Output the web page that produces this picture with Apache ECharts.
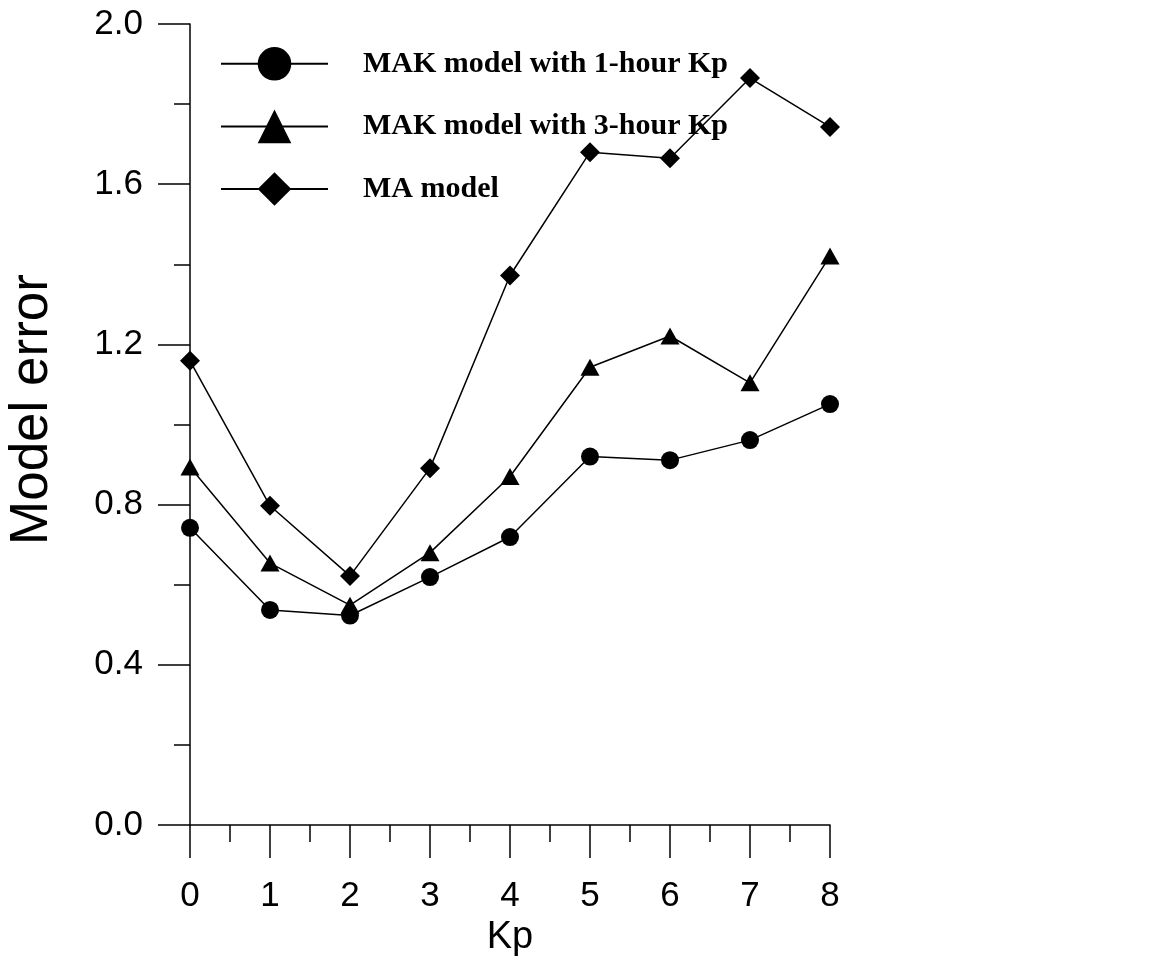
<!DOCTYPE html>
<html>
<head>
<meta charset="utf-8">
<script src="https://cdn.jsdelivr.net/npm/echarts@6/dist/echarts.min.js"></script>
<style>
html,body{margin:0;padding:0;background:#fff;}
#chart{width:1153px;height:966px;}
</style>
</head>
<body>
<div id="chart"></div>
<script>
const kp = [0, 1, 2, 3, 4, 5, 6, 7, 8];
const mak1h = [0.742, 0.537, 0.523, 0.619, 0.719, 0.920, 0.911, 0.961, 1.051];
const mak3h = [0.894, 0.654, 0.549, 0.680, 0.870, 1.143, 1.221, 1.104, 1.421];
const maModel = [1.159, 0.797, 0.622, 0.891, 1.372, 1.680, 1.665, 1.865, 1.743];
const seriesNames = ['MAK model with 1-hour Kp', 'MAK model with 3-hour Kp', 'MA model'];
const yTicks = { min: 0, max: 2, interval: 0.4 };
const xTicks = { min: 0, max: 8, interval: 1 };

const toPairs = arr => kp.map((k, i) => [k, arr[i]]);
const ink = '#000';
const sansFont = '"Liberation Sans", Arial, sans-serif';

const chart = echarts.init(document.getElementById('chart'), null, { renderer: 'canvas' });
const lineSeries = (name, data, symbol, size) => ({
  name, type: 'line', data: toPairs(data), symbol, symbolSize: size,
  lineStyle: { color: ink, width: 1.5 },
  itemStyle: { color: ink, borderWidth: 0 },
  emphasis: { disabled: true },
  animation: false
});

chart.setOption({
  backgroundColor: '#fff',
  animation: false,
  grid: { left: 190, top: 24, width: 640, height: 801, containLabel: false, outerBoundsMode: 'none' },
  legend: {
    left: 220, top: 47, orient: 'vertical', padding: 0,
    itemWidth: 107, itemHeight: 42, itemGap: 29,
    data: seriesNames,
    textStyle: { fontFamily: '"Liberation Serif", "Times New Roman", serif', fontWeight: 'bold', fontSize: 30, color: ink, padding: [0, 0, 0, 30] },
    selectedMode: false
  },
  xAxis: {
    type: 'value', min: xTicks.min, max: xTicks.max, interval: xTicks.interval,
    name: 'Kp', nameLocation: 'middle', nameGap: 94,
    nameTextStyle: { fontFamily: sansFont, fontSize: 38, color: ink },
    axisLine: { show: true, onZero: false, lineStyle: { color: ink, width: 1.5 } },
    axisTick: { show: true, length: 33, lineStyle: { color: ink, width: 1.5 } },
    minorTick: { show: true, splitNumber: 2, length: 17, lineStyle: { color: ink, width: 1.5 } },
    splitLine: { show: false },
    axisLabel: { fontFamily: sansFont, fontSize: 35, color: ink, margin: 54 }
  },
  yAxis: {
    type: 'value', min: yTicks.min, max: yTicks.max, interval: yTicks.interval,
    name: 'Model error', nameLocation: 'middle', nameGap: 131,
    nameTextStyle: { fontFamily: sansFont, fontSize: 53, color: ink, padding: [0, 0, 0, 30] },
    axisLine: { show: true, onZero: false, lineStyle: { color: ink, width: 1.5 } },
    axisTick: { show: true, length: 32, lineStyle: { color: ink, width: 1.5 } },
    minorTick: { show: true, splitNumber: 2, length: 16, lineStyle: { color: ink, width: 1.5 } },
    splitLine: { show: false },
    axisLabel: { fontFamily: sansFont, fontSize: 35, color: ink, margin: 47, formatter: v => v.toFixed(1) }
  },
  series: [
    lineSeries(seriesNames[0], mak1h, 'circle', 18),
    lineSeries(seriesNames[1], mak3h, 'triangle', [19, 17]),
    lineSeries(seriesNames[2], maModel, 'diamond', 20)
  ]
});
</script>
</body>
</html>
